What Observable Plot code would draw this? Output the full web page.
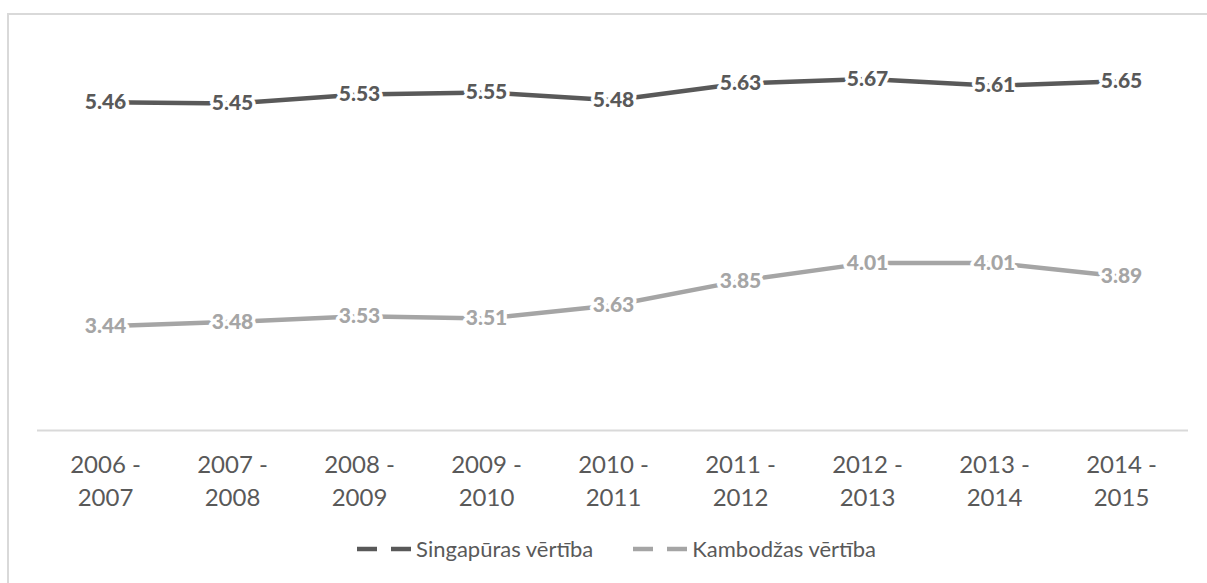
<!DOCTYPE html>
<html>
<head>
<meta charset="utf-8">
<script src="https://cdn.jsdelivr.net/npm/d3@7"></script>
<script src="https://cdn.jsdelivr.net/npm/@observablehq/plot@0.6"></script>
<style>
  html, body { margin: 0; padding: 0; background: #fff; }
  body { width: 1207px; height: 583px; overflow: hidden; position: relative; font-family: Lato, "Open Sans", sans-serif; }
  #frame { position: absolute; left: 7px; top: 13px; width: 1210px; height: 580px; border-top: 2px solid #D9D9D9; border-left: 2px solid #D9D9D9; box-sizing: border-box; }
  #chart { position: absolute; left: 0; top: 0; }
  #legend { position: absolute; left: 0; top: 535px; width: 1207px; box-sizing: border-box; padding-left: 26px; display: flex; justify-content: center; align-items: center; gap: 40px; font-size: 22px; color: #595959; }
  .item { display: flex; align-items: center; gap: 5px; }
  .item svg { display: block; }
</style>
</head>
<body>
<div id="frame"></div>
<div id="chart"></div>
<div id="legend"></div>
<script>
const periods = ["2006 - 2007", "2007 - 2008", "2008 - 2009", "2009 - 2010", "2010 - 2011", "2011 - 2012", "2012 - 2013", "2013 - 2014", "2014 - 2015"];
const singapore = [5.46, 5.45, 5.53, 5.55, 5.48, 5.63, 5.67, 5.61, 5.65];
const cambodia = [3.44, 3.48, 3.53, 3.51, 3.63, 3.85, 4.01, 4.01, 3.89];
const seriesNames = ["Singapūras vērtība", "Kambodžas vērtība"];
const seriesColors = ["#595959", "#A5A5A5"];

const rows = [];
[singapore, cambodia].forEach((vals, s) => {
  vals.forEach((v, i) => rows.push({period: periods[i], value: v, series: seriesNames[s]}));
});

const chart = Plot.plot({
  width: 1207,
  height: 520,
  marginLeft: 37,
  marginRight: 19,
  marginTop: 42,
  marginBottom: 90,
  style: {fontFamily: "Lato, 'Open Sans', sans-serif", background: "transparent"},
  x: {type: "point", domain: periods, padding: 0.5, label: null},
  y: {domain: [2.5, 6], axis: null},
  color: {domain: seriesNames, range: seriesColors},
  marks: [
    Plot.ruleY([2.5], {stroke: "#D9D9D9", strokeWidth: 2}),
    Plot.axisX({
      label: null,
      tickSize: 0,
      tickPadding: 19,
      fontSize: 24,
      lineHeight: 1.38,
      fill: "#595959",
      tickFormat: d => d.replace(" - ", " -\n")
    }),
    Plot.line(rows, {x: "period", y: "value", z: "series", stroke: "series", strokeWidth: 4.5, strokeLinejoin: "round"}),
    Plot.text(rows, {
      x: "period", y: "value", z: "series",
      text: d => d.value.toFixed(2),
      fill: "series",
      stroke: "white",
      strokeWidth: 7,
      paintOrder: "stroke",
      fontWeight: 900,
      fontSize: 21
    })
  ]
});
document.getElementById("chart").appendChild(chart);

const legend = document.getElementById("legend");
seriesNames.forEach((name, i) => {
  const item = document.createElement("div");
  item.className = "item";
  item.innerHTML = `<svg width="54" height="10"><line x1="0" x2="20" y1="5" y2="5" stroke="${seriesColors[i]}" stroke-width="4.5"/><line x1="34" x2="54" y1="5" y2="5" stroke="${seriesColors[i]}" stroke-width="4.5"/></svg><span>${name}</span>`;
  legend.appendChild(item);
});
</script>
</body>
</html>
